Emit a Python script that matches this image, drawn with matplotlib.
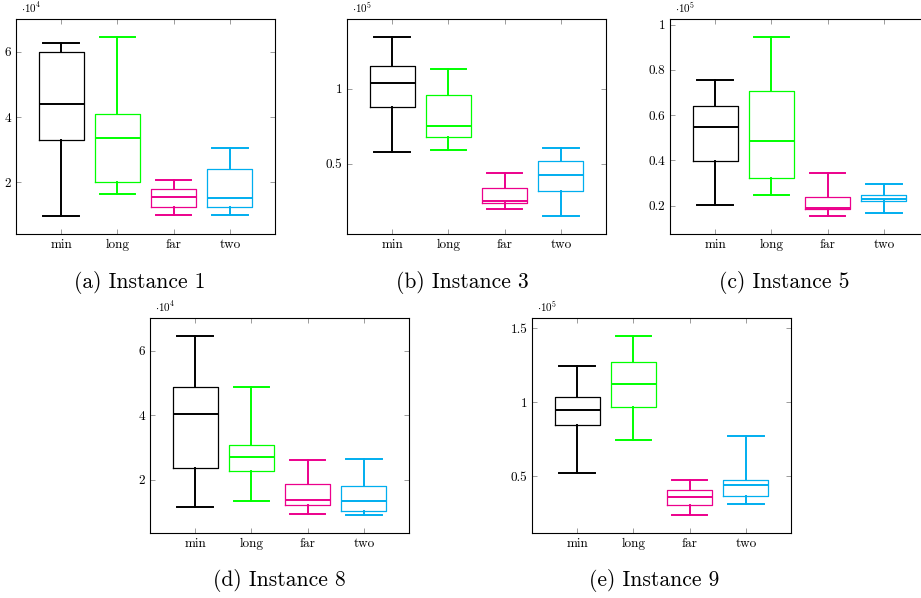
import matplotlib.pyplot as plt

plt.rcParams['font.family'] = 'cmr10'
plt.rcParams['mathtext.fontset'] = 'cm'
plt.rcParams['axes.formatter.use_mathtext'] = True

methods = ['min', 'long', 'far', 'two']
colors = ['black', '#00ff00', '#ec008c', '#00aeef']

# (low whisker, Q1, median, Q3, high whisker) per method
inst1 = [(0.96, 3.29, 4.39, 5.99, 6.27),
         (1.64, 2.01, 3.36, 4.10, 6.46),
         (0.98, 1.23, 1.55, 1.78, 2.08),
         (0.98, 1.24, 1.52, 2.40, 3.04)]
inst3 = [(0.577, 0.878, 1.038, 1.153, 1.343),
         (0.593, 0.675, 0.750, 0.958, 1.131),
         (0.199, 0.237, 0.252, 0.338, 0.438),
         (0.153, 0.319, 0.423, 0.522, 0.604)]
inst5 = [(0.204, 0.399, 0.546, 0.640, 0.754),
         (0.247, 0.324, 0.485, 0.707, 0.946),
         (0.154, 0.184, 0.190, 0.237, 0.344),
         (0.169, 0.219, 0.228, 0.249, 0.294)]
inst8 = [(1.142, 2.372, 4.026, 4.873, 6.465),
         (1.328, 2.279, 2.703, 3.085, 4.873),
         (0.925, 1.204, 1.359, 1.866, 2.600),
         (0.904, 1.028, 1.328, 1.804, 2.660)]
inst9 = [(0.522, 0.844, 0.945, 1.035, 1.248),
         (0.743, 0.969, 1.122, 1.271, 1.448),
         (0.239, 0.307, 0.363, 0.406, 0.475),
         (0.316, 0.365, 0.442, 0.473, 0.776)]

panels = [
    (inst1, 4, [2, 4, 6], ['2', '4', '6'], '(a) Instance 1'),
    (inst3, 5, [0.5, 1], ['0.5', '1'], '(b) Instance 3'),
    (inst5, 5, [0.2, 0.4, 0.6, 0.8, 1], ['0.2', '0.4', '0.6', '0.8', '1'], '(c) Instance 5'),
    (inst8, 4, [2, 4, 6], ['2', '4', '6'], '(d) Instance 8'),
    (inst9, 5, [0.5, 1, 1.5], ['0.5', '1', '1.5'], '(e) Instance 9'),
]

W, H = 921, 598
# axes boxes in pixels: left, top
boxes = [(16, 19), (347, 19), (670, 19), (150, 318), (532, 318)]
caption_pos = [(140, 283), (462, 283), (784, 283), (279, 581), (654, 581)]
aw, ah = 259, 215

fig = plt.figure(figsize=(W / 100, H / 100), dpi=100)

for (data, exp, yt, ytl, cap), (l, t), (cx, cy) in zip(panels, boxes, caption_pos):
    ax = fig.add_axes([l / W, 1 - (t + ah) / H, aw / W, ah / H])
    stats = []
    for m, (lo, q1, med, q3, hi) in zip(methods, data):
        stats.append(dict(label=m, whislo=lo, q1=q1, med=med, q3=q3, whishi=hi, fliers=[]))
    for i, (s, c) in enumerate(zip(stats, colors)):
        ax.bxp([s], positions=[i + 1], widths=0.8, showfliers=False,
               boxprops=dict(color=c, linewidth=0.9),
               whiskerprops=dict(color=c, linewidth=1.4),
               capprops=dict(color=c, linewidth=1.4),
               medianprops=dict(color=c, linewidth=1.4),
               capwidths=0.63, manage_ticks=False)
    lows = [d[0] for d in data]
    highs = [d[4] for d in data]
    rng = max(highs) - min(lows)
    ax.set_ylim(min(lows) - 0.1 * rng, max(highs) + 0.1 * rng)
    ax.set_xlim(0.2, 4.8)
    ax.set_xticks(range(1, 5))
    ax.set_xticklabels(methods)
    ax.set_yticks(yt)
    ax.set_yticklabels(ytl)
    ax.tick_params(direction='in', length=3.5, width=0.6, color='0.55',
                   top=True, right=True, labelsize=9.5, pad=3.5)
    for sp in ax.spines.values():
        sp.set_linewidth(0.8)
    ax.text(0.02, 1.02, r'$\cdot 10^{%d}$' % exp, transform=ax.transAxes,
            fontsize=8, va='bottom', ha='left')
    fig.text(cx / W, 1 - cy / H, cap, ha='center', va='center', fontsize=15.5)

fig.savefig('out.png', dpi=100)
